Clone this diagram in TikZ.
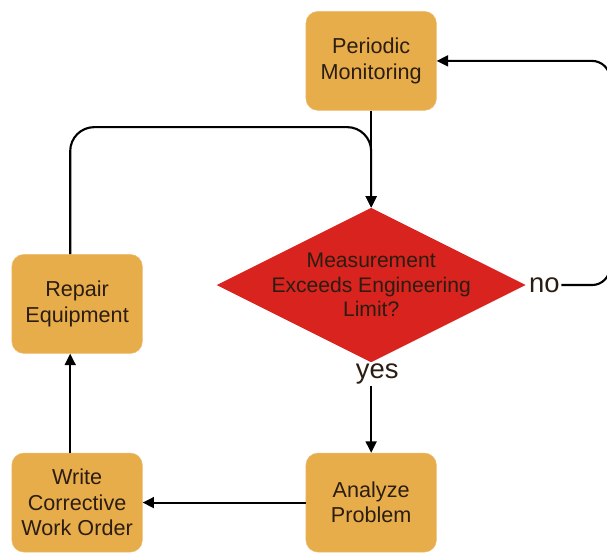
\documentclass[tikz,border=0pt]{standalone}
\usepackage{fontspec}
\setmainfont{Liberation Sans}
\usetikzlibrary{arrows.meta}
\usetikzlibrary{shapes.geometric}
\usetikzlibrary{positioning}
\definecolor{boxorange}{HTML}{E8AD4B}
\definecolor{decisionred}{HTML}{D8231F}
\definecolor{inkdark}{HTML}{2B1D12}

\begin{document}
\begin{tikzpicture}[
  task/.style={rectangle,rounded corners=0.4cm,fill=boxorange,draw=boxorange!80!white,
    minimum width=4.35cm,minimum height=3.3cm,align=center,text=inkdark,
    font=\fontsize{20.5}{24}\selectfont},
  decision/.style={diamond,fill=decisionred,minimum width=10.3cm,minimum height=5.15cm,inner sep=0pt},
  question/.style={align=center,text=inkdark,font=\fontsize{20}{23}\selectfont},
  flow/.style={line width=2pt,-{Triangle[length=3.8mm,width=3.6mm]}},
  lbl/.style={font=\fontsize{26}{28}\selectfont,text=inkdark,inner sep=0.05cm}
]
\clip (0,0) rectangle (20.23,18.4);

\node[task] (mon) at (12.37,16.37) {Periodic\\Monitoring};
\node[decision] (dia) at (12.37,8.9) {};
\node[question] (diatxt) at (dia) {Measurement\\Exceeds Engineering\\Limit?};
\node[task] (ana) at (12.37,1.65) {Analyze\\Problem};
\node[task] (wr) at (2.57,1.65) {Write\\Corrective\\Work Order};
\node[task] (rep) at (2.57,8.27) {Repair\\Equipment};

\node[lbl,right=0.05cm of dia] (no) {no};
\node[lbl,below=0cm of dia,xshift=0.2cm] (yes) {yes};

% main loop
\draw[flow] (mon) -- (dia);
\draw[flow] (yes.south -| ana.north) -- (ana.north);
\draw[flow] (ana) -- (wr);
\draw[flow] ([xshift=-0.23cm]wr.north) -- ([xshift=-0.23cm]rep.south);
\draw[flow,rounded corners=0.8cm] ([xshift=-0.23cm]rep.north) |- ([yshift=-0.55cm]mon.south) -- (dia.north);

% back to monitoring
\draw[flow,rounded corners=0.6cm] (no) -| (20.33,12) |- (mon);

\end{tikzpicture}
\end{document}
